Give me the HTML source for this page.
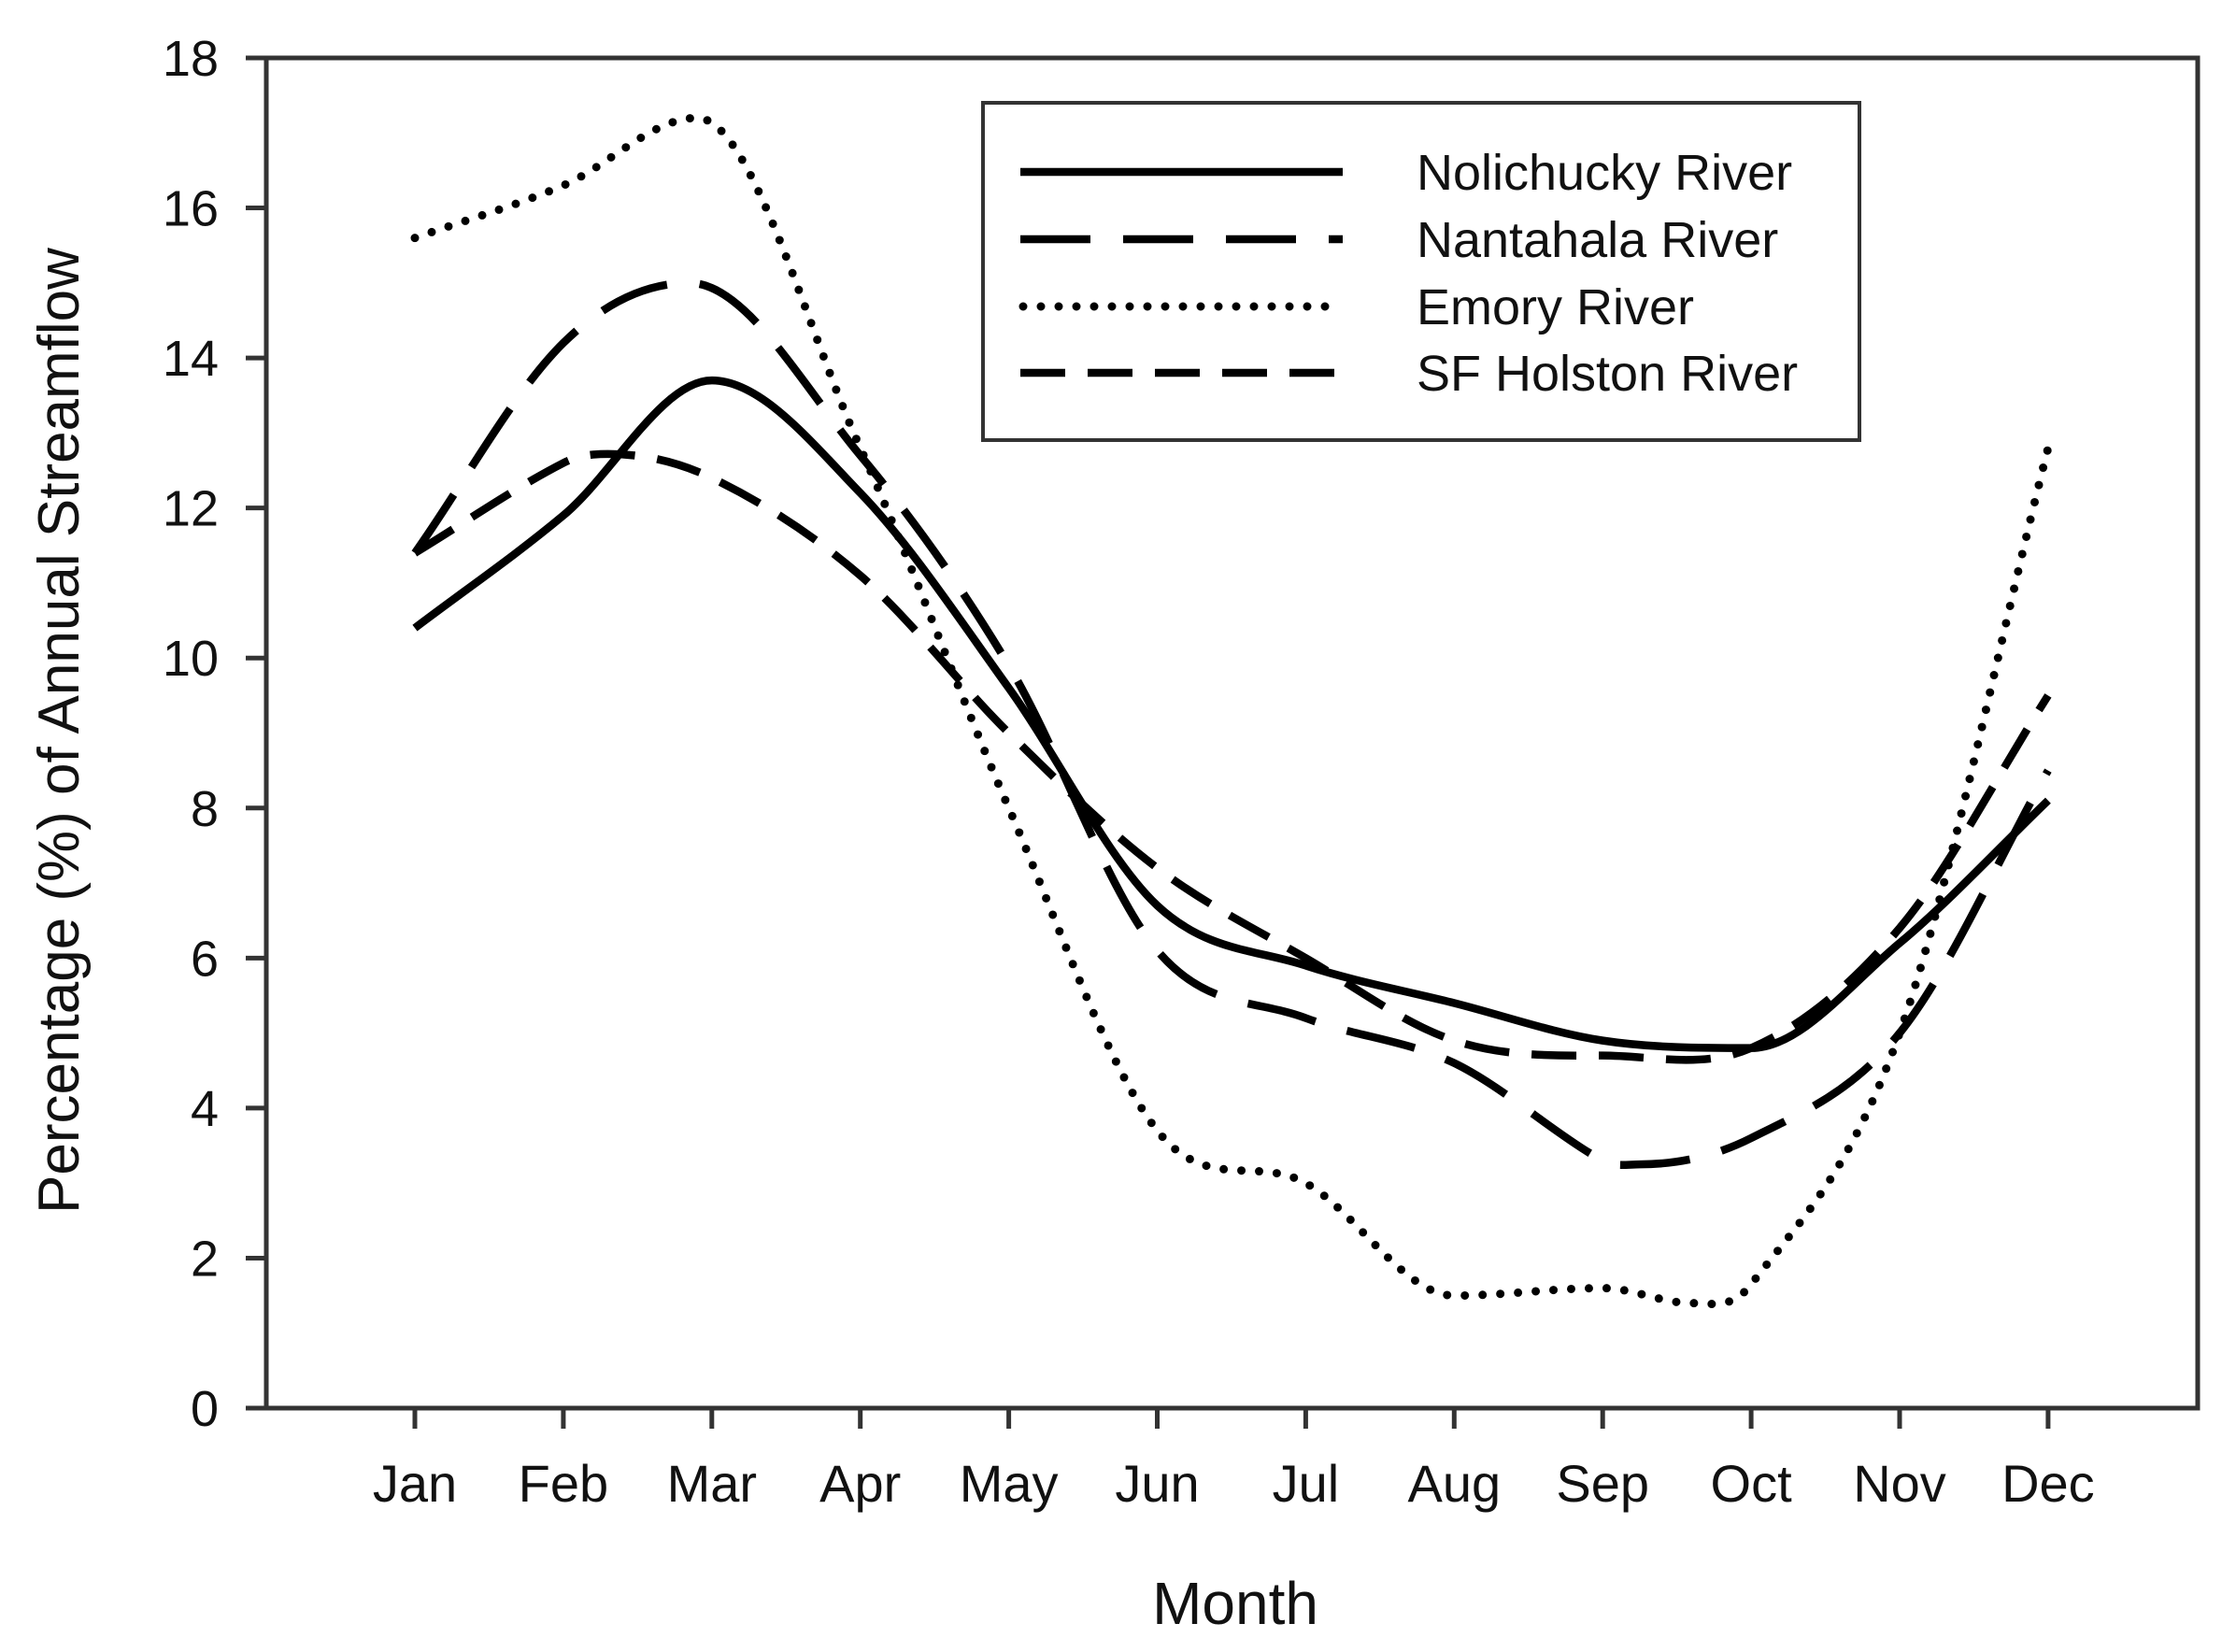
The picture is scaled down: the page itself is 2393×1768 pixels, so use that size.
<!DOCTYPE html>
<html><head><meta charset="utf-8"><style>
html,body{margin:0;padding:0;background:#fff;}
svg{display:block;}
text{font-family:"Liberation Sans",Arial,sans-serif;fill:#111;}
</style></head><body>
<svg id="s" width="2393" height="1768" viewBox="0 0 2393 1768" xmlns="http://www.w3.org/2000/svg">
<rect x="0" y="0" width="2393" height="1768" fill="#fff"/>
<g stroke="#333" stroke-width="5" fill="none">
<rect x="285" y="62" width="2067" height="1445"/>
</g>
<g id="ticks" stroke="#333" stroke-width="5"></g>
<g id="ylab" font-size="54" text-anchor="end"></g>
<g id="xlab" font-size="56" text-anchor="middle"></g>
<text x="84" y="782" font-size="62" text-anchor="middle" transform="rotate(-90 84 782)">Percentage (%) of Annual Streamflow</text>
<text x="1322" y="1738" font-size="64" text-anchor="middle">Month</text>
<g id="series" fill="none" stroke="#000" stroke-width="8.5"></g>
<rect x="1052" y="110" width="938" height="361" fill="#fff" stroke="#333" stroke-width="4"/>
<g stroke="#000" stroke-width="8.5" fill="none">
<line x1="1092" y1="184" x2="1437" y2="184"/>
<line x1="1092" y1="256" x2="1437" y2="256" stroke-dasharray="75 35"/>
<line x1="1095" y1="328" x2="1437" y2="328" stroke-dasharray="0 19" stroke-linecap="round" stroke-width="9"/>
<line x1="1092" y1="399" x2="1437" y2="399" stroke-dasharray="48 24"/>
</g>
<g font-size="54">
<text x="1516" y="203">Nolichucky River</text>
<text x="1516" y="275">Nantahala River</text>
<text x="1516" y="347">Emory River</text>
<text x="1516" y="418">SF Holston River</text>
</g>
</svg>
<script>
var NS="http://www.w3.org/2000/svg";
function X(m){return 444+158.9*m;}
function Y(v){return 1507-80.28*v;}
function el(p,t,a,txt){var e=document.createElementNS(NS,t);for(var k in a)e.setAttribute(k,a[k]);if(txt!=null)e.textContent=txt;document.getElementById(p).appendChild(e);}
for(var i=0;i<=18;i+=2){var y=Y(i);el("ticks","line",{x1:263,y1:y,x2:285,y2:y});el("ylab","text",{x:234,y:y+19},String(i));}
var mon=["Jan","Feb","Mar","Apr","May","Jun","Jul","Aug","Sep","Oct","Nov","Dec"];
for(var m=0;m<12;m++){var x=X(m);el("ticks","line",{x1:x,y1:1507,x2:x,y2:1529});el("xlab","text",{x:x,y:1607},mon[m]);}
function path(pts){var P=pts.map(function(p){return [X(p[0]),Y(p[1])];});var n=P.length,T=[];
for(var i=0;i<n;i++){var a=P[i-1]||P[i],b=P[i+1]||P[i];
 if(i>0&&i<n-1&&((P[i][1]-a[1])*(b[1]-P[i][1])<=0))T.push(0);
 else T.push((b[1]-a[1])/(b[0]-a[0]));}
var d="M"+P[0][0]+","+P[0][1];
for(var i=0;i<n-1;i++){var dx=(P[i+1][0]-P[i][0])/3;
d+=" C"+(P[i][0]+dx)+","+(P[i][1]+T[i]*dx)+" "+(P[i+1][0]-dx)+","+(P[i+1][1]-T[i+1]*dx)+" "+P[i+1][0]+","+P[i+1][1];}return d;}
var S=[
 {d:[[0,10.4],[1,11.9],[2,13.7],[3,12.2],[4,9.6],[5,6.7],[6,5.9],[7,5.4],[8,4.9],[9,4.8],[10,6.2],[11,8.1]],a:{}},
 {d:[[0,11.4],[1,14.2],[1.85,15.0],[3,12.7],[4,9.9],[5,6.1],[6,5.2],[7,4.6],[8,3.3],[8.25,3.25],[9,3.6],[10,5.0],[11,8.5]],a:{"stroke-dasharray":"75 35"}},
 {d:[[0,15.6],[1,16.3],[1.9,17.2],[3,12.8],[4,8.0],[5,3.7],[6,3.0],[7,1.5],[8,1.6],[8.6,1.4],[9,1.65],[10,5.0],[11,12.8]],a:{"stroke-dasharray":"0 19","stroke-linecap":"round","stroke-width":"9"}},
 {d:[[0,11.4],[1,12.6],[1.3,12.72],[2,12.4],[3,11.1],[4,9.0],[5,7.2],[6,6.0],[7,4.9],[8,4.7],[9,4.8],[10,6.4],[11,9.5]],a:{"stroke-dasharray":"48 24"}}
];
S.forEach(function(s){var a={d:path(s.d)};for(var k in s.a)a[k]=s.a[k];el("series","path",a);});
</script>
</body></html>
